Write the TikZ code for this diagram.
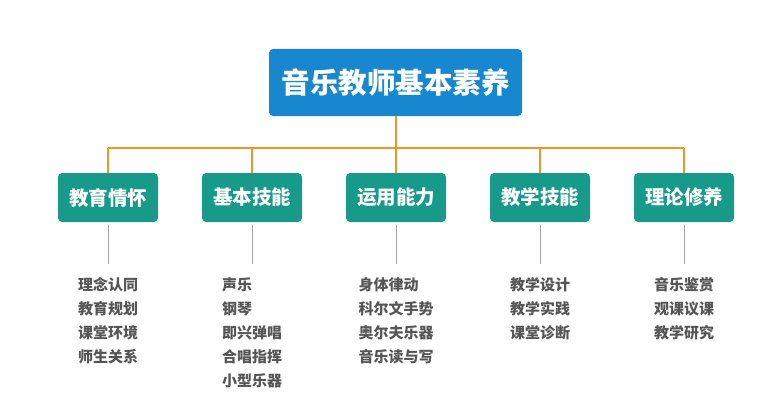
\documentclass[tikz,border=0pt]{standalone}
\usepackage{fontspec}
\newfontfamily\cjk{Noto Sans CJK SC}
\usepackage{tikz}
\usetikzlibrary{positioning}

\definecolor{titleblue}{HTML}{1787CF}
\definecolor{boxgreen}{HTML}{179A8A}
\definecolor{busorange}{HTML}{F39425}
\definecolor{itemgray}{HTML}{555555}
\definecolor{stemgray}{HTML}{A8A8A8}

\tikzset{
    titlebox/.style={fill=titleblue, rounded corners=4pt, minimum width=253pt,
        minimum height=67pt, text=white, font=\cjk\bfseries\fontsize{28.5}{30}\selectfont},
    areabox/.style={fill=boxgreen, rounded corners=4pt, minimum width=100pt,
        minimum height=49pt, text=white, font=\cjk\bfseries\fontsize{19.5}{22}\selectfont},
    itemlist/.style={anchor=north, align=left, inner sep=0pt, text=itemgray,
        font=\cjk\bfseries\fontsize{15}{24}\selectfont},
    busline/.style={draw=busorange, line width=2pt},
    stemline/.style={draw=stemgray, line width=1pt}
}

\begin{document}
\begin{tikzpicture}[x=1pt,y=1pt]
                  \useasboundingbox (0,0) rectangle (759,416);
                  % title
                  \node[titlebox] (top) at (395.5,333.5) {音乐教师基本素养};
                  % five areas
                  \node[areabox] (b1) at (108,218.5) {教育情怀};
                  \node[areabox] (b2) at (252,218.5) {基本技能};
                  \node[areabox] (b3) at (396,218.5) {运用能力};
                  \node[areabox] (b4) at (540,218.5) {教学技能};
                  \node[areabox] (b5) at (684,218.5) {理论修养};
                  % lists
                  \node[itemlist] (l1) at (108,139) {理念认同\\教育规划\\课堂环境\\师生关系};
                  \node[itemlist] (l2) at (252,139) {声乐\\钢琴\\即兴弹唱\\合唱指挥\\小型乐器};
                  \node[itemlist] (l3) at (396,139) {身体律动\\科尔文手势\\奥尔夫乐器\\音乐读与写};
                  \node[itemlist] (l4) at (540,139) {教学设计\\教学实践\\课堂诊断};
                  \node[itemlist] (l5) at (684,139) {音乐鉴赏\\观课议课\\教学研究};
                  % orange bus
                  \coordinate (busL) at (108,268);
                  \coordinate (busR) at (684,268);
                  \draw[busline] (top.south) -- (top.south |- busL);
                  \draw[busline] (busL) -- (busR);
                  \draw[busline] (busL) -- (b1.north);
                  \draw[busline] (b2.north |- busL) -- (b2.north);
                  \draw[busline] (b3.north |- busL) -- (b3.north);
                  \draw[busline] (b4.north |- busL) -- (b4.north);
                  \draw[busline] (busR) -- (b5.north);
                  % gray stems
                  \draw[stemline] ([yshift=-3pt]b1.south) -- ([yshift=13pt]l1.north);
                  \draw[stemline] ([yshift=-3pt]b2.south) -- ([yshift=13pt]l2.north);
                  \draw[stemline] ([yshift=-3pt]b3.south) -- ([yshift=13pt]l3.north);
                  \draw[stemline] ([yshift=-3pt]b4.south) -- ([yshift=13pt]l4.north);
                  \draw[stemline] ([yshift=-3pt]b5.south) -- ([yshift=13pt]l5.north);
              \end{tikzpicture}
\end{document}
